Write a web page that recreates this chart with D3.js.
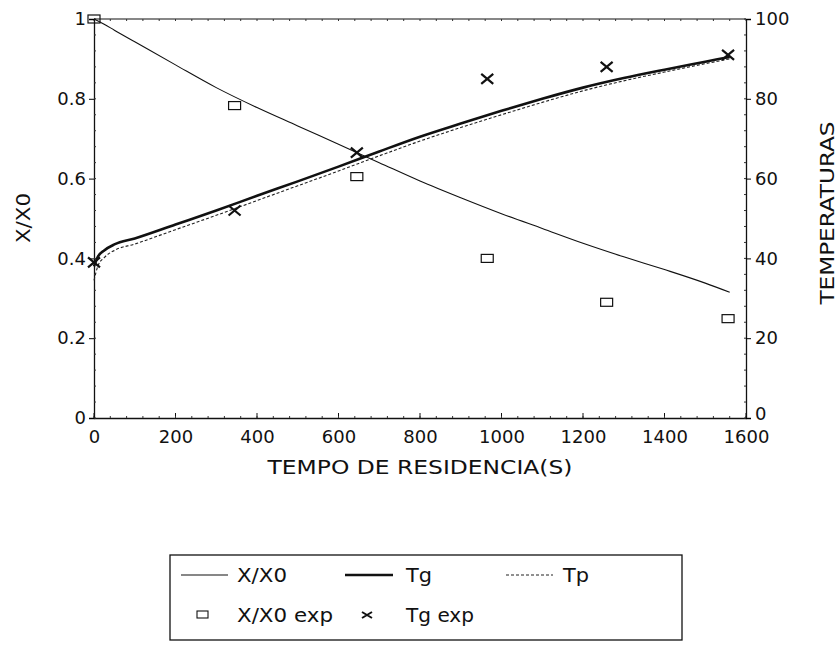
<!DOCTYPE html>
<html>
<head>
<meta charset="utf-8">
<script src="https://cdn.jsdelivr.net/npm/d3@7"></script>
<style>
  body { margin: 0; background: #fff; }
  text { font-family: "DejaVu Sans", "Liberation Sans", sans-serif; fill: #111; }
</style>
</head>
<body>
<div id="chart"></div>
<script>
// model curves (time in s)
var tModel = [0, 10, 25, 50, 100, 200, 300, 400, 500, 600, 700, 800, 900, 1000, 1100, 1200, 1300, 1400, 1500, 1560];
var xModel = [1.0, 0.995, 0.987, 0.972, 0.943, 0.885, 0.828, 0.778, 0.732, 0.686, 0.64, 0.594, 0.552, 0.512, 0.475, 0.438, 0.404, 0.372, 0.338, 0.315];
var tgModel = [38, 40.5, 42, 43.5, 45, 48.5, 52, 55.7, 59.3, 63, 66.8, 70.5, 73.8, 77, 80, 82.8, 85.2, 87.3, 89.3, 90.5];
var tpModel = [34.5, 38.2, 40.2, 42, 43.6, 47.2, 50.8, 54.5, 58.2, 61.9, 65.7, 69.4, 72.8, 76, 79.1, 82, 84.5, 86.7, 88.8, 90];

// experimental points
var tExp = [0, 345, 645, 965, 1258, 1556];
var xExp = [1.0, 0.783, 0.605, 0.40, 0.29, 0.249];
var tgExp = [39, 52, 66.5, 85, 88, 91];

var xTicks = [0, 200, 400, 600, 800, 1000, 1200, 1400, 1600];
var yLeftTicks = [0, 0.2, 0.4, 0.6, 0.8, 1];
var yRightTicks = [0, 20, 40, 60, 80, 100];

var width = 838, height = 650;
var plotL = 94, plotR = 746, plotT = 19, plotB = 418;

var svg = d3.select("#chart").append("svg")
    .attr("width", width)
    .attr("height", height);

var x = d3.scaleLinear().domain([0, 1600]).range([plotL, plotR]);
var yL = d3.scaleLinear().domain([0, 1]).range([plotB, plotT]);
var yR = d3.scaleLinear().domain([0, 100]).range([plotB, plotT]);

// top border
svg.append("line")
    .attr("x1", plotL).attr("x2", plotR)
    .attr("y1", plotT).attr("y2", plotT)
    .attr("stroke", "#111").attr("stroke-width", 1.2);

svg.append("g").selectAll("line")
    .data(d3.range(0, 1601, 40))
    .enter().append("line")
    .attr("x1", d => x(d)).attr("x2", d => x(d))
    .attr("y1", plotT).attr("y2", plotT + 2)
    .attr("stroke", "#333").attr("stroke-width", 1);

// bottom axis
var xAxis = svg.append("g")
    .attr("transform", "translate(0," + plotB + ")")
    .call(d3.axisBottom(x).tickValues(xTicks).tickSize(0).tickPadding(12).tickFormat(d3.format("d")));
xAxis.select(".domain").attr("stroke", "#111").attr("stroke-width", 1.3);
xAxis.selectAll("text").style("font-size", "18px").style("font-family", "DejaVu Sans, sans-serif");

svg.append("g").selectAll("line")
    .data(xTicks)
    .enter().append("line")
    .attr("x1", d => x(d)).attr("x2", d => x(d))
    .attr("y1", plotB).attr("y2", plotB - 5)
    .attr("stroke", "#111");
svg.append("g").selectAll("line")
    .data(d3.range(0, 1601, 40))
    .enter().append("line")
    .attr("x1", d => x(d)).attr("x2", d => x(d))
    .attr("y1", plotB).attr("y2", plotB - 2)
    .attr("stroke", "#333");

// left axis
var yAxisL = svg.append("g")
    .attr("transform", "translate(" + plotL + ",0)")
    .call(d3.axisLeft(yL).tickValues(yLeftTicks).tickSize(5).tickPadding(3).tickFormat(d3.format("")));
yAxisL.select(".domain").attr("stroke", "#111").attr("stroke-width", 1.3);
yAxisL.selectAll("text").style("font-size", "18px").style("font-family", "DejaVu Sans, sans-serif");
svg.append("g").selectAll("line")
    .data(d3.range(0, 1.001, 0.04))
    .enter().append("line")
    .attr("x1", plotL).attr("x2", plotL + 2)
    .attr("y1", d => yL(d)).attr("y2", d => yL(d))
    .attr("stroke", "#333");

// right axis
var yAxisR = svg.append("g")
    .attr("transform", "translate(" + plotR + ",0)")
    .call(d3.axisRight(yR).tickValues(yRightTicks).tickSize(5).tickPadding(4).tickFormat(d3.format("d")));
yAxisR.select(".domain").attr("stroke", "#111").attr("stroke-width", 1.3);
yAxisR.selectAll("text").style("font-size", "18px").style("font-family", "DejaVu Sans, sans-serif");
// the 0 sits right above the 1600 label, lift it a little
yAxisR.selectAll(".tick").filter(d => d === 0).select("text").attr("dy", "0.1em");
svg.append("g").selectAll("line")
    .data(d3.range(0, 100.1, 4))
    .enter().append("line")
    .attr("x1", plotR).attr("x2", plotR - 2)
    .attr("y1", d => yR(d)).attr("y2", d => yR(d))
    .attr("stroke", "#333");

// axis titles
svg.append("text")
    .attr("x", 420)
    .attr("y", 474)
    .attr("text-anchor", "middle")
    .attr("textLength", 305)
    .attr("lengthAdjust", "spacingAndGlyphs")
    .style("font-size", "19px")
    .text("TEMPO DE RESIDENCIA(S)");

svg.append("text")
    .attr("transform", "translate(30,218) rotate(-90)")
    .attr("text-anchor", "middle")
    .attr("textLength", 50)
    .attr("lengthAdjust", "spacingAndGlyphs")
    .style("font-size", "19px")
    .text("X/X0");

svg.append("text")
    .attr("transform", "translate(834,213) rotate(-90)")
    .attr("text-anchor", "middle")
    .attr("textLength", 183)
    .attr("lengthAdjust", "spacingAndGlyphs")
    .style("font-size", "19px")
    .text("TEMPERATURAS");

// model lines
var lineX = d3.line()
    .x((d, i) => x(tModel[i]))
    .y(d => yL(d))
    .curve(d3.curveMonotoneX);
var lineT = d3.line()
    .x((d, i) => x(tModel[i]))
    .y(d => yR(d))
    .curve(d3.curveMonotoneX);

svg.append("path")
    .attr("d", lineX(xModel))
    .attr("fill", "none").attr("stroke", "#111").attr("stroke-width", 1.1);

svg.append("path")
    .attr("d", lineT(tpModel))
    .attr("fill", "none").attr("stroke", "#222").attr("stroke-width", 1.1)
    .attr("stroke-dasharray", "3,2");

svg.append("path")
    .attr("d", lineT(tgModel))
    .attr("fill", "none").attr("stroke", "#111").attr("stroke-width", 2.6);

// experimental points
function square(g, cx, cy) {
    g.append("rect")
        .attr("x", cx - 6).attr("y", cy - 4)
        .attr("width", 12).attr("height", 8)
        .attr("fill", "none").attr("stroke", "#111").attr("stroke-width", 1.2);
}
function cross(g, cx, cy) {
    g.append("path")
        .attr("d", "M" + (cx - 6) + "," + (cy - 5) + "L" + (cx + 6) + "," + (cy + 5) +
              "M" + (cx - 6) + "," + (cy + 5) + "L" + (cx + 6) + "," + (cy - 5))
        .attr("fill", "none").attr("stroke", "#111").attr("stroke-width", 2.2);
}

var pts = svg.append("g");
tExp.forEach(function(t, i) {
    square(pts, x(t), yL(xExp[i]));
    cross(pts, x(t), yR(tgExp[i]));
});

// legend
var lg = svg.append("g");
lg.append("rect")
    .attr("x", 170).attr("y", 555)
    .attr("width", 512).attr("height", 85)
    .attr("fill", "none").attr("stroke", "#111").attr("stroke-width", 1.3);

function legendText(tx, ty, label, len) {
    lg.append("text")
        .attr("x", tx).attr("y", ty + 7)
        .attr("textLength", len)
        .attr("lengthAdjust", "spacingAndGlyphs")
        .style("font-size", "19px")
        .text(label);
}

var row1 = 575, row2 = 615;
lg.append("line").attr("x1", 181).attr("x2", 228).attr("y1", row1).attr("y2", row1)
    .attr("stroke", "#111").attr("stroke-width", 1.1);
legendText(237, row1, "X/X0", 50);

lg.append("line").attr("x1", 345).attr("x2", 393).attr("y1", row1).attr("y2", row1)
    .attr("stroke", "#111").attr("stroke-width", 2.6);
legendText(406, row1, "Tg", 26);

lg.append("line").attr("x1", 506).attr("x2", 553).attr("y1", row1).attr("y2", row1)
    .attr("stroke", "#222").attr("stroke-width", 1.1).attr("stroke-dasharray", "3,2");
legendText(563, row1, "Tp", 26);

lg.append("rect").attr("x", 197).attr("y", row2 - 4).attr("width", 11).attr("height", 7)
    .attr("fill", "none").attr("stroke", "#111").attr("stroke-width", 1.1);
legendText(237, row2, "X/X0 exp", 96);

lg.append("path")
    .attr("d", "M362," + (row2 - 3) + "L372," + (row2 + 3) + "M362," + (row2 + 3) + "L372," + (row2 - 3))
    .attr("fill", "none").attr("stroke", "#111").attr("stroke-width", 2);
legendText(406, row2, "Tg exp", 68);
</script>
</body>
</html>
